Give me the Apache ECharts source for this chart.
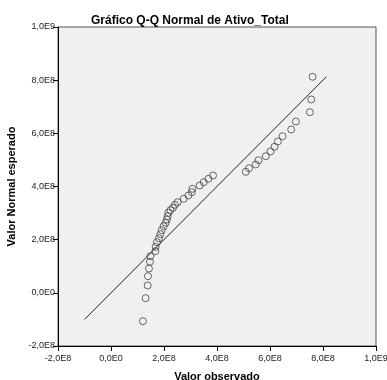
<!DOCTYPE html>
<html>
<head>
<meta charset="utf-8">
<script src="https://cdn.jsdelivr.net/npm/echarts@6/dist/echarts.min.js"></script>
<style>
html, body { margin: 0; padding: 0; background: #fff; }
#main { width: 387px; height: 380px; }
</style>
</head>
<body>
<div id="main"></div>
<script>
// valores (observado, esperado)
var observado = [
    1.205e8, 1.307e8, 1.383e8, 1.394e8, 1.432e8, 1.470e8, 1.485e8, 1.674e8, 1.685e8, 1.734e8,
    1.810e8, 1.863e8, 1.912e8, 1.987e8, 2.063e8, 2.112e8, 2.139e8, 2.165e8, 2.241e8, 2.339e8,
    2.414e8, 2.517e8, 2.743e8, 2.921e8, 3.046e8, 3.072e8, 3.348e8, 3.499e8, 3.677e8, 3.851e8,
    5.087e8, 5.211e8, 5.465e8, 5.567e8, 5.842e8, 6.020e8, 6.171e8, 6.296e8, 6.474e8, 6.799e8,
    6.976e8, 7.505e8, 7.555e8, 7.607e8
];
var esperado = [
    -1.067e8, -0.202e8, 0.276e8, 0.626e8, 0.915e8, 1.167e8, 1.378e8, 1.566e8, 1.732e8, 1.905e8,
    2.055e8, 2.206e8, 2.356e8, 2.507e8, 2.635e8, 2.759e8, 2.883e8, 3.011e8, 3.109e8, 3.199e8,
    3.312e8, 3.410e8, 3.537e8, 3.662e8, 3.786e8, 3.914e8, 4.038e8, 4.162e8, 4.290e8, 4.414e8,
    4.553e8, 4.688e8, 4.828e8, 4.989e8, 5.140e8, 5.317e8, 5.494e8, 5.693e8, 5.892e8, 6.144e8,
    6.445e8, 6.795e8, 7.273e8, 8.127e8
];
// reta de referência (y = x)
var retaX = [-1.0e8, 8.13e8];

var pontos = observado.map(function (v, i) { return [v, esperado[i]]; });
var reta = retaX.map(function (v) { return [v, v]; });

// formato tipo SPSS: 1,0E9
function fmt(v) {
    if (v === 0) return '0,0E0';
    var e = Math.floor(Math.log10(Math.abs(v)) + 1e-9);
    var m = v / Math.pow(10, e);
    return m.toFixed(1).replace('.', ',') + 'E' + e;
}

var myChart = echarts.init(document.getElementById('main'));
var eixo = {
    type: 'value',
    min: -2e8,
    max: 1e9,
    interval: 2e8,
    nameLocation: 'middle',
    nameTextStyle: { fontFamily: 'Liberation Sans', fontWeight: 'bold', fontSize: 11, color: '#000' },
    axisLine: { show: true, onZero: false, lineStyle: { color: '#000', width: 1 } },
    axisTick: { show: true, length: 5, lineStyle: { color: '#000' } },
    axisLabel: { formatter: fmt, fontFamily: 'Liberation Sans', fontSize: 9, color: '#222', margin: 3 },
    splitLine: { show: false }
};

var option = {
    animation: false,
    backgroundColor: '#fff',
    title: {
        text: 'Gráfico Q-Q Normal de Ativo_Total',
        left: 86,
        top: 10,
        textStyle: { fontFamily: 'Liberation Sans', fontWeight: 'bold', fontSize: 12, color: '#000' }
    },
    grid: {
        left: 58, right: 11, top: 27, bottom: 34,
        outerBoundsMode: 'none',
        containLabel: false,
        show: true,
        backgroundColor: '#f0f0f0',
        borderColor: '#555',
        borderWidth: 1
    },
    xAxis: echarts.util.merge({ name: 'Valor observado', nameGap: 25, axisLabel: { margin: 8 } }, eixo),
    yAxis: echarts.util.merge({ name: 'Valor Normal esperado', nameGap: 31 }, eixo),
    series: [
        {
            type: 'line',
            data: reta,
            showSymbol: false,
            lineStyle: { color: '#222', width: 1 },
            z: 2
        },
        {
            type: 'scatter',
            data: pontos,
            symbol: 'circle',
            symbolSize: 7,
            itemStyle: { color: 'rgba(0,0,0,0)', borderColor: '#444', borderWidth: 1 },
            z: 3
        }
    ]
};
myChart.setOption(option);
</script>
</body>
</html>
